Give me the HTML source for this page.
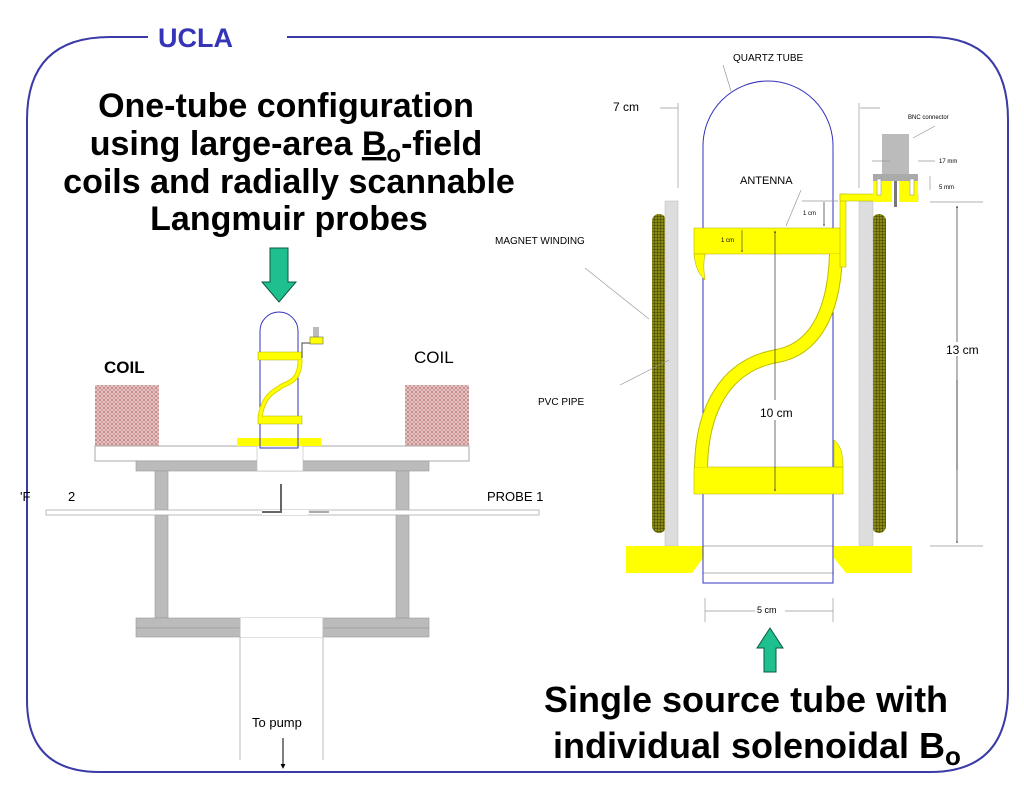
<!DOCTYPE html>
<html><head><meta charset="utf-8"><style>
html,body{margin:0;padding:0;background:#fff}
svg{display:block}
text{font-family:"Liberation Sans",Arial,sans-serif}
</style></head><body>
<svg width="1024" height="791" viewBox="0 0 1024 791" xmlns="http://www.w3.org/2000/svg">
<defs>
<pattern id="chk" width="4" height="4" patternUnits="userSpaceOnUse">
<rect width="4" height="4" fill="#e8c8c8"/><circle cx="2" cy="2" r="1.1" fill="#fff"/><path d="M0 0L4 4M4 0L0 4" stroke="#b86a6a" stroke-width="0.6"/>
</pattern>
<pattern id="grid" width="3" height="3" patternUnits="userSpaceOnUse">
<rect width="3" height="3" fill="#8a8a10"/><path d="M0 0H3M0 0V3" stroke="#2a2a05" stroke-width="0.8"/>
</pattern>
<marker id="ah" viewBox="0 0 6 6" refX="5" refY="3" markerWidth="5" markerHeight="5" orient="auto"><path d="M0 0L6 3L0 6z" fill="#000"/></marker>
<marker id="ahs" viewBox="0 0 6 6" refX="5" refY="3" markerWidth="3" markerHeight="3" orient="auto"><path d="M0 0L6 3L0 6z" fill="#333"/></marker>
</defs>

<!-- border -->
<path d="M148 37 H110 Q27 37 27 120 V700 Q27 772 100 772 H930 Q1008 772 1008 690 V120 Q1008 37 930 37 H287" fill="none" stroke="#3a3aa8" stroke-width="2"/>
<text x="158" y="47" font-size="27" font-weight="bold" fill="#3535b8">UCLA</text>

<!-- title -->
<g font-size="34" font-weight="bold" text-anchor="middle" fill="#000">
<text x="286" y="117">One-tube configuration</text>
<text x="286" y="155">using large-area <tspan text-decoration="underline">B</tspan><tspan font-size="24" dy="7">o</tspan><tspan dy="-7">-field</tspan></text>
<text x="289" y="193">coils and radially scannable</text>
<text x="289" y="230">Langmuir probes</text>
</g>

<!-- green arrow left -->
<path d="M270 248H288V282H296L279 302L262 282H270Z" fill="#1fc08f" stroke="#0b5a40" stroke-width="1"/>

<!-- LEFT DIAGRAM -->
<rect x="95" y="385" width="64" height="61" fill="url(#chk)"/>
<rect x="405" y="385" width="64" height="61" fill="url(#chk)"/>
<text x="104" y="373" font-size="17" font-weight="bold">COIL</text>
<text x="414" y="363" font-size="17">COIL</text>
<rect x="95" y="446" width="374" height="15" fill="#fff" stroke="#aaa"/>
<rect x="136" y="461" width="293" height="10" fill="#bbb" stroke="#999" stroke-width="0.6"/>
<rect x="257" y="446" width="46" height="25" fill="#fff" stroke="#bbb" stroke-width="0.6"/>
<rect x="155" y="471" width="13" height="147" fill="#bbb" stroke="#999" stroke-width="0.6"/>
<rect x="396" y="471" width="13" height="147" fill="#bbb" stroke="#999" stroke-width="0.6"/>
<rect x="136" y="618" width="293" height="10" fill="#bbb" stroke="#999" stroke-width="0.6"/>
<rect x="136" y="628" width="293" height="9" fill="#bbb" stroke="#999" stroke-width="0.6"/>
<rect x="240" y="618" width="83" height="19" fill="#fff"/>
<path d="M240 618V760M323 618V760" stroke="#bbb" stroke-width="1"/>
<text x="252" y="727" font-size="13">To pump</text>
<path d="M283 738V768" stroke="#000" marker-end="url(#ah)"/>
<!-- probes -->
<rect x="46" y="510" width="493" height="5" fill="#fff" stroke="#aaa" stroke-width="0.8"/>
<rect x="262" y="510" width="46" height="5" fill="#fff"/>
<path d="M281 484V512H262" fill="none" stroke="#666" stroke-width="2"/>
<path d="M329 512H309" stroke="#555" stroke-width="1"/>
<text x="487" y="501" font-size="13">PROBE 1</text>
<text x="20" y="501" font-size="13">'F</text>
<text x="68" y="501" font-size="13">2</text>
<!-- small tube -->
<rect x="237" y="438" width="84" height="8" fill="#ffff00"/>
<path d="M260 448V331A19 19 0 0 1 298 331V448Z" fill="none" stroke="#3333bb" stroke-width="1"/>
<rect x="258" y="352" width="44" height="8" fill="#ffff00" stroke="#aa0" stroke-width="0.5"/>
<rect x="258" y="416" width="44" height="8" fill="#ffff00" stroke="#aa0" stroke-width="0.5"/>
<path d="M300 360C300 385 283 383 279 388C266 395 262 405 260 417" fill="none" stroke="#dada00" stroke-width="5"/>
<path d="M300 360C300 385 283 383 279 388C266 395 262 405 260 417" fill="none" stroke="#ffff00" stroke-width="3"/>
<path d="M302 358V343H311" fill="none" stroke="#444" stroke-width="1"/>
<rect x="313" y="327" width="6" height="10" fill="#bbb"/>
<rect x="310" y="337" width="13" height="7" fill="#ffff00" stroke="#666" stroke-width="0.6"/>

<!-- RIGHT DIAGRAM -->
<rect x="652" y="214" width="14" height="319" rx="7" fill="url(#grid)"/>
<rect x="872" y="214" width="14" height="319" rx="7" fill="url(#grid)"/>
<rect x="665" y="201" width="13" height="345" fill="#ddd" stroke="#bbb" stroke-width="0.5"/>
<rect x="859" y="201" width="14" height="345" fill="#ddd" stroke="#bbb" stroke-width="0.5"/>
<path d="M626 546H703V558L692 573H626Z" fill="#ffff00"/>
<path d="M834 546H912V573H846L834 558Z" fill="#ffff00"/>
<path d="M703 546H834M703 573H834" stroke="#666" stroke-width="0.6"/>
<path d="M703 583V146A65 65 0 0 1 833 146V583Z" fill="none" stroke="#3333bb" stroke-width="1"/>
<rect x="694" y="228" width="148" height="26" fill="#ffff00" stroke="#aa0" stroke-width="0.5"/>
<path d="M694 254H705C703 265 704 272 705 280C698 274 695 265 694 254Z" fill="#ffff00" stroke="#aa0" stroke-width="0.5"/>
<rect x="694" y="467" width="149" height="27" fill="#ffff00" stroke="#aa0" stroke-width="0.5"/>
<path d="M834 440C841 445 843 455 843 467H834Z" fill="#ffff00" stroke="#aa0" stroke-width="0.5"/>
<path d="M836 254C834 320 810 350 777 356C725 365 702 410 701 467" fill="none" stroke="#bdbd00" stroke-width="14"/>
<path d="M836 254C834 320 810 350 777 356C725 365 702 410 701 467" fill="none" stroke="#ffff00" stroke-width="12"/>
<rect x="840" y="194" width="6" height="73" fill="#ffff00" stroke="#aa0" stroke-width="0.5"/>
<rect x="840" y="194" width="78" height="7" fill="#ffff00" stroke="#aa0" stroke-width="0.5"/>
<rect x="882" y="134" width="27" height="40" fill="#bbb"/>
<rect x="873" y="174" width="45" height="7" fill="#aaa"/>
<rect x="873" y="181" width="45" height="21" fill="#ffff00"/>
<rect x="877" y="179" width="4" height="16" fill="#fff" stroke="#888" stroke-width="0.5"/>
<rect x="910" y="179" width="4" height="16" fill="#fff" stroke="#888" stroke-width="0.5"/>
<rect x="892" y="181" width="7" height="21" fill="#fff"/>
<rect x="894" y="181" width="3" height="26" fill="#777"/>
<g stroke="#999" stroke-width="0.7" fill="none">
<path d="M678 103V188M859 103V188"/>
<path d="M660 108H678M880 108H860"/>
<path d="M930 202H983M930 546H983"/>
<path d="M802 201H838"/>
<path d="M705 598V622M833 598V622M705 611H755M785 611H833"/>
<path d="M890 161H872M918 161H935M930 176V190"/>
<path d="M723 65L731 91M801 190L786 226M585 268L649 319M620 385L669 360M935 126L913 138"/>
</g>
<path d="M957 470V206" stroke="#333" stroke-width="0.7" marker-end="url(#ahs)"/>
<path d="M957 380V543" stroke="#333" stroke-width="0.7" marker-end="url(#ahs)"/>
<path d="M775 400V231" stroke="#333" stroke-width="0.7" marker-end="url(#ahs)"/>
<path d="M775 420V491" stroke="#333" stroke-width="0.7" marker-end="url(#ahs)"/>
<path d="M824 215V202M824 215V226" stroke="#333" stroke-width="0.7" marker-end="url(#ahs)"/>
<path d="M742 241V230M742 241V252" stroke="#333" stroke-width="0.6" marker-end="url(#ahs)"/>
<rect x="950" y="342" width="24" height="14" fill="#fff"/>
<rect x="760" y="404" width="32" height="14" fill="#fff"/>
<g fill="#000">
<text x="733" y="61" font-size="10">QUARTZ TUBE</text>
<text x="613" y="111" font-size="12">7 cm</text>
<text x="740" y="184" font-size="11">ANTENNA</text>
<text x="495" y="244" font-size="10">MAGNET WINDING</text>
<text x="538" y="405" font-size="10">PVC  PIPE</text>
<text x="946" y="354" font-size="12">13 cm</text>
<text x="760" y="417" font-size="12">10 cm</text>
<text x="757" y="613" font-size="9">5 cm</text>
<text x="908" y="119" font-size="6">BNC connector</text>
<text x="939" y="163" font-size="6">17 mm</text>
<text x="939" y="189" font-size="6">5 mm</text>
<text x="803" y="215" font-size="6">1 cm</text>
<text x="721" y="242" font-size="6">1 cm</text>
</g>
<path d="M764 672H776V648H783L770 628L757 648H764Z" fill="#1fc08f" stroke="#0b5a40" stroke-width="1"/>
<g font-size="36" font-weight="bold" fill="#000">
<text x="544" y="712">Single source tube with</text>
<text x="553" y="758">individual solenoidal B<tspan font-size="26" dy="7">o</tspan></text>
</g>
</svg>
</body></html>
